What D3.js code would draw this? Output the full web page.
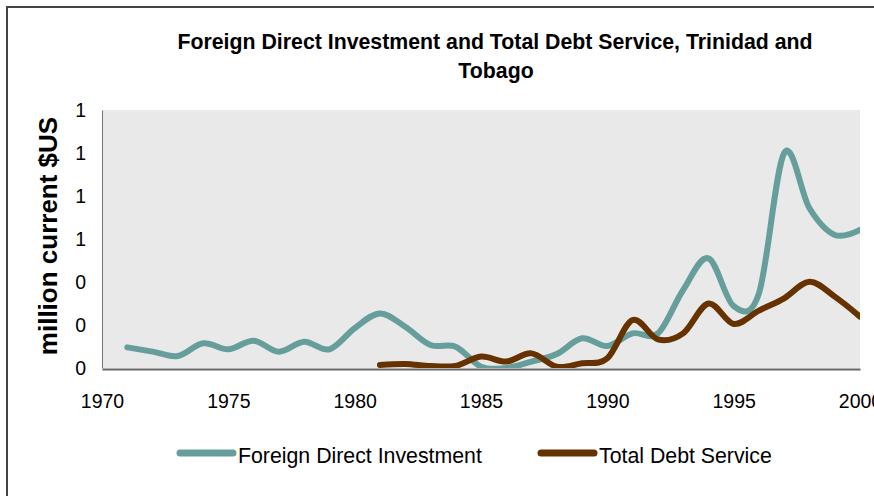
<!DOCTYPE html>
<html>
<head>
<meta charset="utf-8">
<script src="https://cdn.jsdelivr.net/npm/d3@7"></script>
<style>
  body { margin: 0; background: #fff; }
  svg { display: block; font-family: "Liberation Sans", Arial, sans-serif; }
</style>
</head>
<body>
<svg id="chart" width="874" height="496"></svg>
<script>
// values (labels are rounded to whole numbers)
const fdiYears = d3.range(1971, 2001);
const fdi = [0.096, 0.076, 0.056, 0.115, 0.087, 0.127, 0.076, 0.122, 0.087, 0.185,
  0.254, 0.192, 0.107, 0.099, 0.006, 0.0, 0.03, 0.065, 0.138, 0.102,
  0.161, 0.161, 0.363, 0.51, 0.288, 0.347, 1.0, 0.743, 0.619, 0.642];
const tdsYears = d3.range(1981, 2001);
const tds = [0.014, 0.019, 0.009, 0.01, 0.053, 0.03, 0.068, 0.006, 0.022, 0.045,
  0.223, 0.133, 0.161, 0.3, 0.205, 0.267, 0.324, 0.401, 0.332, 0.239];
const yTicks = [0, 0.2, 0.4, 0.6, 0.8, 1.0, 1.2];
const xTicks = [1970, 1975, 1980, 1985, 1990, 1995, 2000];

const svg = d3.select("#chart");
const plotL = 102, plotR = 860, plotT = 110, plotB = 368;

// outer frame
svg.append("rect")
  .attr("x", 7).attr("y", 7)
  .attr("width", 900).attr("height", 520)
  .attr("fill", "none").attr("stroke", "#444").attr("stroke-width", 2);

let x = d3.scaleLinear().domain([1970, 2000]).range([plotL, plotR]);
let y = d3.scaleLinear().domain([0, 1.2]).range([plotB, plotT]);

svg.append("rect")
  .attr("x", plotL).attr("y", plotT)
  .attr("width", plotR - plotL).attr("height", plotB - plotT)
  .attr("fill", "#e9e9e9");

svg.append("defs").append("clipPath").attr("id", "clip")
  .append("rect")
  .attr("x", plotL).attr("y", plotT - 5)
  .attr("width", plotR - plotL).attr("height", plotB - plotT + 5);

// title
svg.append("text")
  .attr("x", 495).attr("y", 49)
  .attr("text-anchor", "middle")
  .attr("font-size", 21.3).attr("font-weight", "bold")
  .text("Foreign Direct Investment and Total Debt Service, Trinidad and");
svg.append("text")
  .attr("x", 496).attr("y", 78)
  .attr("text-anchor", "middle")
  .attr("font-size", 21.3).attr("font-weight", "bold")
  .text("Tobago");

// axes
let yAxis = d3.axisLeft(y).tickValues(yTicks).tickFormat(d3.format(".0f")).tickSize(0).tickPadding(16);
svg.append("g")
  .attr("transform", `translate(${plotL},0)`)
  .call(yAxis)
  .call(g => g.select(".domain").attr("stroke", "#777"))
  .selectAll("text").attr("font-size", 19.5).attr("font-family", "Liberation Sans, Arial, sans-serif").attr("fill", "#000");

let xAxis = d3.axisBottom(x).tickValues(xTicks).tickFormat(d3.format("d")).tickSize(0).tickPadding(25);
svg.append("g")
  .attr("transform", `translate(0,${plotB + 1})`)
  .call(xAxis)
  .call(g => g.select(".domain").attr("stroke", "#666").attr("stroke-width", 2))
  .selectAll("text").attr("font-size", 19.5).attr("font-family", "Liberation Sans, Arial, sans-serif").attr("fill", "#000");

svg.append("text")
  .attr("transform", "translate(57,236) rotate(-90)")
  .attr("text-anchor", "middle")
  .attr("font-size", 26).attr("font-weight", "bold")
  .text("million current $US");

// lines
let line = d3.line()
  .x(d => x(d[0]))
  .y(d => y(d[1]))
  .curve(d3.curveCardinal.tension(0));

const series = [
  { name: "Foreign Direct Investment", color: "#669e9b", pts: d3.zip(fdiYears, fdi) },
  { name: "Total Debt Service", color: "#663300", pts: d3.zip(tdsYears, tds) }
];

svg.append("g").attr("clip-path", "url(#clip)")
  .selectAll("path")
  .data(series)
  .enter()
  .append("path")
  .attr("d", d => line(d.pts))
  .attr("fill", "none")
  .attr("stroke", d => d.color)
  .attr("stroke-width", 6)
  .attr("stroke-linecap", "round")
  .attr("stroke-linejoin", "round");

// legend
const legendX = [180, 541];
let legend = svg.selectAll(".legend")
  .data(series)
  .enter()
  .append("g")
  .attr("class", "legend")
  .attr("transform", (d, i) => `translate(${legendX[i]},453)`);

legend.append("line")
  .attr("x1", 0).attr("x2", 53)
  .attr("stroke", d => d.color)
  .attr("stroke-width", 7)
  .attr("stroke-linecap", "round");

legend.append("text")
  .attr("x", 58).attr("y", 10)
  .attr("font-size", 21.3)
  .text(d => d.name);
</script>
</body>
</html>
